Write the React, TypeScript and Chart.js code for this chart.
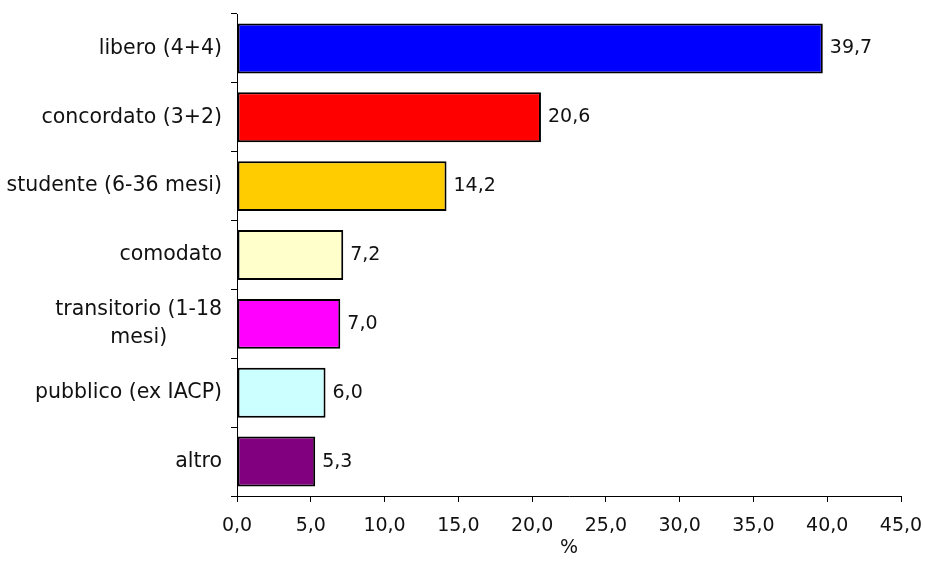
import React, { useEffect, useRef } from "react";
import { Chart, registerables } from "chart.js";

Chart.register(...registerables);

const categories: string[][] = [
  ["libero (4+4)"],
  ["concordato (3+2)"],
  ["studente (6-36 mesi)"],
  ["comodato"],
  ["transitorio (1-18", "mesi)"],
  ["pubblico (ex IACP)"],
  ["altro"],
];
const values = [39.7, 20.6, 14.2, 7.2, 7.0, 6.0, 5.3];
const barColors = ["#0000FF", "#FF0000", "#FFCC00", "#FFFFCC", "#FF00FF", "#CCFFFF", "#800080"];
const xMin = 0;
const xMax = 45;
const xStep = 5;
const xTitle = "%";

const FONT = "'DejaVu Sans', Verdana, sans-serif";
const fmt = (v: number) => v.toFixed(1).replace(".", ",");

const labelPlugin = {
  id: "customLabels",
  afterDatasetsDraw(chart: any) {
    const ctx = chart.ctx;
    const meta = chart.getDatasetMeta(0);
    const yScale = chart.scales.y;
    ctx.save();
    ctx.fillStyle = "#111";
    ctx.textBaseline = "middle";
    // value labels
    ctx.font = `19px ${FONT}`;
    meta.data.forEach((bar: any, i: number) => {
      ctx.textAlign = "left";
      ctx.fillText(fmt(values[i]), bar.x + 7, bar.y);
    });
    // category labels
    ctx.font = `20.5px ${FONT}`;
    const rightEdge = yScale.right - 15;
    const lineH = 28;
    categories.forEach((lines, i) => {
      const yc = yScale.getPixelForValue(i);
      const maxW = Math.max(...lines.map((l) => ctx.measureText(l).width));
      const cx = rightEdge - maxW / 2;
      const startY = yc - ((lines.length - 1) * lineH) / 2;
      lines.forEach((l, j) => {
        ctx.textAlign = "center";
        ctx.fillText(l, cx, startY + j * lineH);
      });
    });
    ctx.restore();
  },
};

export default function App() {
  const ref = useRef<HTMLCanvasElement>(null);
  useEffect(() => {
    if (!ref.current) return;
    const chart = new Chart(ref.current, {
      type: "bar",
      data: {
        labels: categories.map((c) => c.join(" ")),
        datasets: [
          {
            data: values,
            backgroundColor: barColors,
            borderColor: "#000",
            borderWidth: 2,
            borderSkipped: false,
            barPercentage: 0.725,
            categoryPercentage: 1,
          },
        ],
      },
      options: {
        indexAxis: "y",
        animation: false,
        responsive: false,
        maintainAspectRatio: false,
        layout: { padding: { top: 14, right: 24, left: 0, bottom: 0 } },
        plugins: { legend: { display: false }, tooltip: { enabled: false } },
        scales: {
          x: {
            min: xMin,
            max: xMax,
            ticks: {
              stepSize: xStep,
              callback: (v: any) => fmt(Number(v)),
              font: { family: FONT, size: 19 },
              color: "#111",
              padding: 13,
              maxRotation: 0,
            },
            grid: { drawOnChartArea: false, tickLength: 6, color: "#000", tickColor: "#000" },
            border: { color: "#000", width: 1 },
            title: {
              display: true,
              text: xTitle,
              font: { family: FONT, size: 19 },
              color: "#111",
              padding: { top: 4, bottom: 3 },
            },
            afterFit: (s: any) => {
              s.height = 66;
              s.paddingLeft = 0;
              s.paddingRight = 0;
            },
          },
          y: {
            ticks: { display: false },
            grid: { drawOnChartArea: false, offset: true, tickLength: 6, color: "#000", tickColor: "#000" },
            border: { color: "#000", width: 1 },
            afterFit: (s: any) => {
              s.width = 237;
              s.paddingTop = 0;
              s.paddingBottom = 0;
            },
          },
        },
      },
      plugins: [labelPlugin],
    });
    return () => chart.destroy();
  }, []);
  return (
    <div style={{ position: "fixed", left: 0, top: 0, width: 925, height: 562, background: "#fff" }}>
      <canvas ref={ref} width={925} height={562} style={{ width: 925, height: 562 }} />
    </div>
  );
}
